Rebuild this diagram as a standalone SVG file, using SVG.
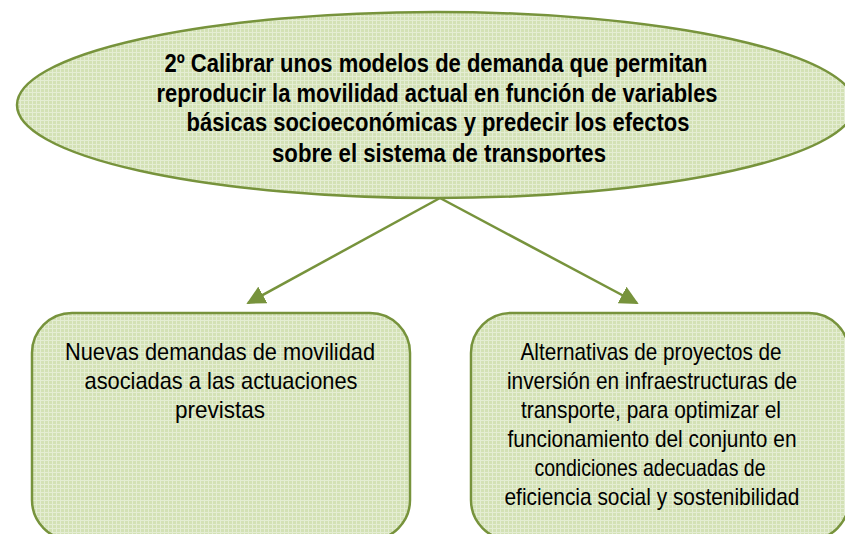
<svg xmlns="http://www.w3.org/2000/svg" width="845" height="534" viewBox="0 0 845 534">
<style>
.shape{fill:url(#grid);stroke:#77933c;stroke-width:2.5}
.conn{stroke:#77933c;stroke-width:2.5;fill:none;marker-end:url(#arr)}
.t{font-family:"Liberation Sans Narrow","Liberation Sans",Arial,sans-serif;fill:#000;text-anchor:middle}
.title{font-size:25px;font-weight:bold}
.body{font-size:24px}
</style>
<defs>
<pattern id="grid" width="4" height="4" patternUnits="userSpaceOnUse">
<rect width="4" height="4" fill="#d3e1b5"/>
<path d="M0 0.5H4M0.5 0V4" stroke="#e4edd3" stroke-width="1"/>
</pattern>
<marker id="arr" viewBox="0 0 10 10" refX="9" refY="5" markerWidth="7.5" markerHeight="7.5" markerUnits="strokeWidth" orient="auto">
<path d="M0 0L10 5L0 10Z" fill="#77933c"/>
</marker>
<clipPath id="tclip"><rect x="0" y="0" width="845" height="162.5"/></clipPath>
</defs>
<g id="connectors">
<line class="conn" x1="440" y1="198" x2="248" y2="303"/>
<line class="conn" x1="440" y1="198" x2="637" y2="303"/>
</g>
<g id="node-top">
<ellipse class="shape" cx="436" cy="105" rx="419" ry="93"/>
<g clip-path="url(#tclip)">
<text class="t title" x="436" y="72" textLength="543" lengthAdjust="spacingAndGlyphs">2º Calibrar unos modelos de demanda que permitan</text>
<text class="t title" x="437" y="101.5" textLength="561" lengthAdjust="spacingAndGlyphs">reproducir la movilidad actual en función de variables</text>
<text class="t title" x="438" y="131" textLength="503" lengthAdjust="spacingAndGlyphs">básicas socioeconómicas y predecir los efectos</text>
<text class="t title" x="439" y="162" textLength="334" lengthAdjust="spacingAndGlyphs">sobre el sistema de transportes</text>
</g>
</g>
<g id="node-left">
<rect class="shape" x="32" y="313" width="378" height="227" rx="40" ry="40"/>
<text class="t body" x="220" y="360" textLength="310" lengthAdjust="spacingAndGlyphs">Nuevas demandas de movilidad</text>
<text class="t body" x="221" y="389" textLength="273" lengthAdjust="spacingAndGlyphs">asociadas a las actuaciones</text>
<text class="t body" x="220" y="418" textLength="90" lengthAdjust="spacingAndGlyphs">previstas</text>
</g>
<g id="node-right">
<rect class="shape" x="471" y="313" width="378" height="227" rx="40" ry="40"/>
<text class="t body" x="651" y="360" textLength="261" lengthAdjust="spacingAndGlyphs">Alternativas de proyectos de</text>
<text class="t body" x="652" y="389" textLength="290" lengthAdjust="spacingAndGlyphs">inversión en infraestructuras de</text>
<text class="t body" x="651" y="418" textLength="260" lengthAdjust="spacingAndGlyphs">transporte, para optimizar el</text>
<text class="t body" x="652" y="447" textLength="289" lengthAdjust="spacingAndGlyphs">funcionamiento del conjunto en</text>
<text class="t body" x="650" y="476" textLength="231" lengthAdjust="spacingAndGlyphs">condiciones adecuadas de</text>
<text class="t body" x="652" y="505" textLength="295" lengthAdjust="spacingAndGlyphs">eficiencia social y sostenibilidad</text>
</g>
</svg>
